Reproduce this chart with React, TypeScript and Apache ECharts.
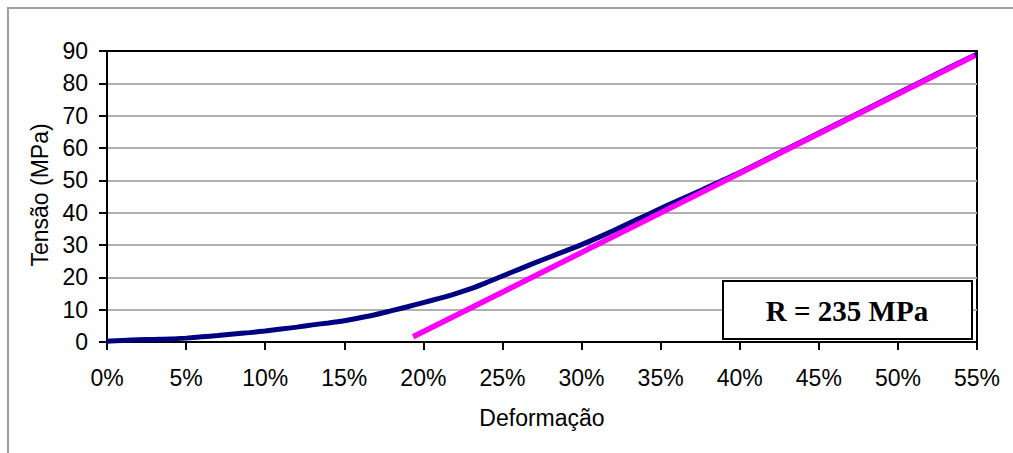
import React, { useEffect, useRef } from "react";
import * as echarts from "echarts";

// Deformação (strain, fraction) and Tensão (MPa) of the measured curve
const strain = [
  0.0, 0.01, 0.02, 0.03, 0.04, 0.05, 0.06, 0.07, 0.08, 0.09, 0.1, 0.11, 0.12,
  0.13, 0.14, 0.15, 0.16, 0.17, 0.18, 0.19, 0.2, 0.21, 0.22, 0.23, 0.24, 0.25,
  0.26, 0.27, 0.28, 0.29, 0.3, 0.31, 0.32, 0.33, 0.34, 0.35, 0.36, 0.37, 0.38,
  0.39, 0.4, 0.42, 0.44, 0.46, 0.48, 0.5, 0.52, 0.54, 0.55,
];
const stress = [
  0.2, 0.5, 0.7, 0.8, 0.9, 1.2, 1.6, 2.0, 2.5, 2.9, 3.4, 4.0, 4.6, 5.3, 5.9,
  6.6, 7.5, 8.5, 9.7, 10.9, 12.2, 13.5, 14.9, 16.5, 18.4, 20.4, 22.4, 24.4,
  26.3, 28.2, 30.1, 32.2, 34.4, 36.7, 39.0, 41.3, 43.5, 45.7, 47.9, 50.2, 52.4,
  57.3, 62.2, 67.1, 72.0, 76.9, 81.8, 86.7, 89.0,
];

// Linear fit line (modulus)
const fitStrain = [0.1935, 0.5487];
const fitStress = [1.6, 88.6];

const xTicks = { min: 0, max: 0.55, interval: 0.05 };
const yTicks = { min: 0, max: 90, interval: 10 };

const xTitle = "Deformação";
const yTitle = "Tensão (MPa)";
const boxLabel = "R = 235 MPa";

export default function App() {
  const ref = useRef<HTMLDivElement>(null);

  useEffect(() => {
    document.body.style.margin = "0";
    if (!ref.current) return;
    const chart = echarts.init(ref.current, null, { renderer: "svg" });
    const font = "Liberation Sans, Arial, sans-serif";
    chart.setOption({
      animation: false,
      grid: {
        left: 107,
        top: 51,
        right: 36,
        bottom: 111,
        show: true,
        borderColor: "#000",
        borderWidth: 2,
        backgroundColor: "transparent",
      },
      xAxis: {
        type: "value",
        min: xTicks.min,
        max: xTicks.max,
        interval: xTicks.interval,
        axisLine: { show: true, lineStyle: { color: "#000", width: 2 } },
        axisTick: { show: true, length: 8, lineStyle: { color: "#000", width: 2 } },
        axisLabel: {
          color: "#000",
          fontSize: 23,
          fontFamily: font,
          margin: 24,
          formatter: (v: number) => Math.round(v * 100) + "%",
        },
        splitLine: { show: false },
      },
      yAxis: {
        type: "value",
        min: yTicks.min,
        max: yTicks.max,
        interval: yTicks.interval,
        axisLine: { show: true, lineStyle: { color: "#000", width: 2 } },
        axisTick: { show: true, length: 8, lineStyle: { color: "#000", width: 2 } },
        axisLabel: {
          color: "#000",
          fontSize: 23,
          fontFamily: font,
          margin: 19,
          padding: [6, 0, 0, 0],
        },
        splitLine: {
          show: true,
          showMinLine: false,
          showMaxLine: false,
          lineStyle: { color: "#b0b0b0", width: 2 },
        },
      },
      series: [
        {
          type: "line",
          data: strain.map((x, i) => [x, stress[i]]),
          showSymbol: false,
          smooth: 0.25,
          lineStyle: { color: "#000080", width: 5 },
          z: 2,
        },
        {
          type: "line",
          data: fitStrain.map((x, i) => [x, fitStress[i]]),
          showSymbol: false,
          lineStyle: { color: "#ff00ff", width: 5.5, cap: "butt" },
          z: 3,
        },
      ],
      graphic: [
        {
          type: "rect",
          shape: { x: 8, y: 8, width: 1030, height: 470 },
          style: { fill: "none", stroke: "#a0a0a0", lineWidth: 2 },
          silent: true,
          z: 0,
        },
        {
          type: "text",
          x: 40,
          y: 195,
          rotation: Math.PI / 2,
          style: {
            text: yTitle,
            fontSize: 23,
            fontFamily: font,
            fill: "#000",
            align: "center",
            verticalAlign: "middle",
          },
        },
        {
          type: "text",
          x: 542,
          y: 418,
          style: {
            text: xTitle,
            fontSize: 23,
            fontFamily: font,
            fill: "#000",
            align: "center",
            verticalAlign: "middle",
          },
        },
        {
          type: "rect",
          shape: { x: 723, y: 281, width: 249, height: 58 },
          style: { fill: "#fff", stroke: "#000", lineWidth: 2 },
          z: 100,
        },
        {
          type: "text",
          x: 847,
          y: 311,
          z: 101,
          style: {
            text: boxLabel,
            fontSize: 29,
            fontWeight: "bold",
            fontFamily: "Liberation Serif, Times New Roman, serif",
            fill: "#000",
            align: "center",
            verticalAlign: "middle",
          },
        },
      ],
    });
    return () => chart.dispose();
  }, []);

  return <div ref={ref} style={{ width: 1013, height: 453 }} />;
}
